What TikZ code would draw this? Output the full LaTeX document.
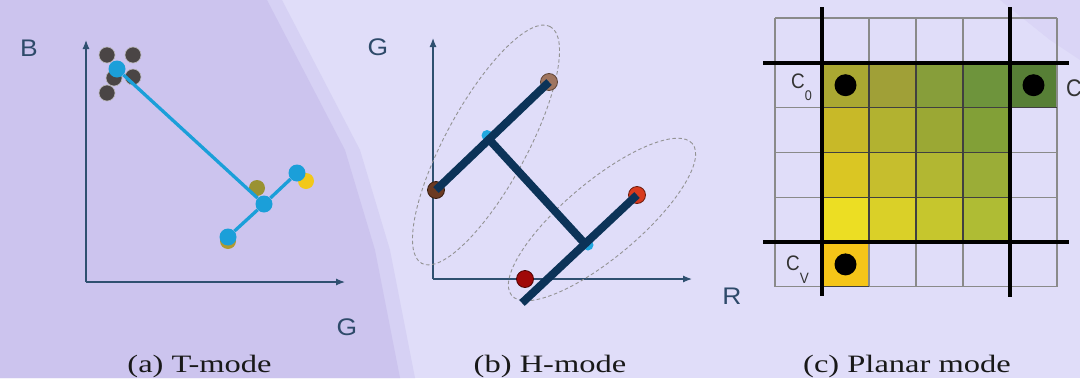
\documentclass[tikz,border=0pt]{standalone}
\usepackage{fontspec}
\setmainfont{Liberation Serif}
\setsansfont{Liberation Sans}
\usetikzlibrary{arrows.meta}
\definecolor{bgl}{HTML}{E0DDF9}
\definecolor{bgp}{HTML}{CCC4EE}
\definecolor{axc}{HTML}{2F5070}
\definecolor{lblc}{HTML}{2E4A6A}
\definecolor{tblue}{HTML}{1B9FD9}
\definecolor{ddot}{HTML}{4A4545}
\definecolor{olivec}{HTML}{9A9232}
\definecolor{ylw}{HTML}{F2C81A}
\definecolor{goldc}{HTML}{B09A30}
\definecolor{navy}{HTML}{0C3358}
\definecolor{brownd}{HTML}{6B3A22}
\definecolor{brownl}{HTML}{A07560}
\definecolor{redl}{HTML}{D83A1E}
\definecolor{redd}{HTML}{A00808}
\definecolor{cyanj}{HTML}{22A8E0}
\definecolor{gridc}{HTML}{8A8A8A}
\definecolor{c11}{HTML}{AAA832}
\definecolor{c12}{HTML}{A0A037}
\definecolor{c13}{HTML}{879E3A}
\definecolor{c14}{HTML}{6E943C}
\definecolor{c15}{HTML}{577F36}
\definecolor{c21}{HTML}{C8B928}
\definecolor{c22}{HTML}{B2B230}
\definecolor{c23}{HTML}{9BA834}
\definecolor{c24}{HTML}{82A037}
\definecolor{c31}{HTML}{DAC623}
\definecolor{c32}{HTML}{C6BE2D}
\definecolor{c33}{HTML}{B2B732}
\definecolor{c34}{HTML}{9BAD37}
\definecolor{c41}{HTML}{ECDE23}
\definecolor{c42}{HTML}{DAD028}
\definecolor{c43}{HTML}{C6C62D}
\definecolor{c44}{HTML}{AFBC34}
\definecolor{c51}{HTML}{F5C518}
\begin{document}
\begin{tikzpicture}[x=1pt,y=-1pt,
  dot/.style={circle,inner sep=0pt,minimum size=16pt},
  axisline/.style={draw=axc,line width=1.2pt,-{Latex[length=9pt,width=7pt]}},
  axl/.style={font=\fontsize{24}{24}\selectfont\sffamily,text=lblc,xscale=1.1,inner sep=0pt},
  captxt/.style={font=\fontsize{25}{25}\selectfont,xscale=1.3,anchor=base,inner sep=0pt,text=black!90},
  tline/.style={draw=tblue,line width=3.3pt},
  hline/.style={draw=navy,line width=8pt},
  ell/.style={draw=gray!85,line width=0.9pt,dash pattern=on 3.5pt off 2.5pt},
  cl/.style={font=\fontsize{21}{21}\selectfont\sffamily,text=black!80,inner sep=0pt,xscale=0.9,anchor=base west},
  bdot/.style={circle,fill=black,inner sep=0pt,minimum size=22pt},
  gridl/.style={draw=gridc,line width=1.2pt},
  innerl/.style={draw=black!75,line width=1.3pt},
  thickl/.style={draw=black,line width=4pt},
]
\useasboundingbox (0,0) rectangle (1080,378);
% background
\fill[bgl] (0,0) rectangle (1080,378);
\fill[bgp!50!bgl] (0,0) -- (282,0) -- (360,150) -- (390,250) -- (415,378) -- (0,378) -- cycle;
\fill[bgp] (0,0) -- (267,0) -- (345,150) -- (375,250) -- (400,378) -- (0,378) -- cycle;
\fill[bgp!30!bgl] (1000,0) -- (1080,0) -- (1080,60) -- (1050,40) -- cycle;

% ---------- panel (a) ----------
\coordinate (ao) at (86,282);
\coordinate (ay) at (86,40);
\coordinate (ax) at (345,282);
\draw[axisline] (ao) -- (ay);
\draw[axisline] (ao) -- (ax);
\node[axl] (aB) at (29,48) {B};
\node[axl] (aG) at (347,327) {G};
\node[dot,fill=ddot,draw=white!60!ddot,line width=0.6pt] (d1) at (107,55) {};
\node[dot,fill=ddot,draw=white!60!ddot,line width=0.6pt] (d2) at (133,55) {};
\node[dot,fill=ddot,draw=white!60!ddot,line width=0.6pt] (d3) at (133,77) {};
\node[dot,fill=ddot,draw=white!60!ddot,line width=0.6pt] (d4) at (107,93) {};
\node[dot,fill=ddot,draw=white!60!ddot,line width=0.6pt] (d5) at (114,78) {};
\node[dot,fill=olivec] (o1) at (257,188) {};
\node[dot,fill=ylw] (y1) at (306,181) {};
\node[dot,fill=goldc] (g1) at (228,241) {};
\node[dot,fill=tblue,minimum size=17pt] (b1) at (117,69) {};
\node[dot,fill=tblue,minimum size=17pt] (b2) at (264,204) {};
\node[dot,fill=tblue,minimum size=17pt] (b3) at (228,237) {};
\node[dot,fill=tblue,minimum size=17pt] (b4) at (297,173) {};
\draw[tline] (b1) -- (b2);
\draw[tline] (b3) -- (b2);
\draw[tline] (b2) -- (b4);
\node[captxt] (capa) at (199.5,372) {(a) T-mode};

% ---------- panel (b) ----------
\coordinate (bo) at (433,279);
\coordinate (by) at (433,38);
\coordinate (bx) at (692,279);
\draw[axisline] (bo) -- (by);
\draw[axisline] (bo) -- (bx);
\node[axl] (bG) at (378,47) {G};
\node[axl] (bR) at (732,296) {R};
\draw[ell, rotate around={61.5:(486,145)}] (486,145) ellipse [x radius=134.7pt, y radius=40.6pt];
\draw[ell, rotate around={40:(602,219.5)}] (602,219.5) ellipse [x radius=118pt, y radius=38pt];
\node[dot,fill=brownd,draw=black!50!brownd,line width=0.8pt,minimum size=17pt] (hu1) at (436,190) {};
\node[dot,fill=brownl,draw=black!40!brownl,line width=0.8pt,minimum size=17pt] (hu2) at (549,82) {};
\node[dot,fill=redl,draw=black!50!redl,line width=0.8pt,minimum size=17pt] (hr1) at (637,195) {};
\node[dot,fill=redd,draw=black!50!redd,line width=0.8pt,minimum size=17pt] (hr2) at (525,279) {};
\node[dot,fill=cyanj,minimum size=11pt] (cj1) at (487,135.5) {};
\node[dot,fill=cyanj,minimum size=11pt] (cj2) at (588,245) {};
\coordinate (j1) at (489,139.3);
\coordinate (j2) at (585,243.8);
\coordinate (he) at (522,303);
\draw[hline] (hu1.center) -- (hu2.center);
\draw[hline] (j1) -- (j2);
\draw[hline] (he) -- (hr1.center);
\node[captxt] (capb) at (550,372) {(b) H-mode};

% ---------- panel (c) ----------
\foreach \r/\k/\c in {1/1/c11,1/2/c12,1/3/c13,1/4/c14,1/5/c15,
                     2/1/c21,2/2/c22,2/3/c23,2/4/c24,
                     3/1/c31,3/2/c32,3/3/c33,3/4/c34,
                     4/1/c41,4/2/c42,4/3/c43,4/4/c44,
                     5/1/c51}
  \fill[\c] ({775+47*\k},{18+44.8*\r}) rectangle ({822+47*\k},{62.8+44.8*\r});
\foreach \i in {0,...,6}
  \draw[gridl] ({775+47*\i},18) -- ({775+47*\i},286.8);
\foreach \j in {0,...,6}
  \draw[gridl] (775,{18+44.8*\j}) -- (1057,{18+44.8*\j});
% darker inner lines of the coloured block
\foreach \i in {2,3,4}
  \draw[innerl] ({775+47*\i},62.8) -- ({775+47*\i},242);
\foreach \j in {2,3,4}
  \draw[innerl] (822,{18+44.8*\j}) -- (1010,{18+44.8*\j});
\draw[innerl] (1010,107.6) -- (1057,107.6);
\draw[innerl] (822,286.8) -- (869,286.8);
\coordinate (v1t) at (822,7);   \coordinate (v1b) at (822,296);
\coordinate (v2t) at (1010,7);  \coordinate (v2b) at (1010,297);
\coordinate (h1l) at (763,62.8); \coordinate (h1r) at (1069,62.8);
\coordinate (h2l) at (763,242);  \coordinate (h2r) at (1069,242);
\draw[thickl] (v1t) -- (v1b);
\draw[thickl] (v2t) -- (v2b);
\draw[thickl] (h1l) -- (h1r);
\draw[thickl] (h2l) -- (h2r);
\node[bdot] (k1) at (845.5,85.2) {};
\node[bdot] (k2) at (1033.5,85.2) {};
\node[bdot] (k3) at (845.5,264.4) {};
\node[cl] (lc0) at (791,88) {C\raisebox{-12pt}{\fontsize{14}{14}\selectfont 0}};
\node[cl] (lcv) at (786,270) {C\raisebox{-13pt}{\fontsize{15}{15}\selectfont V}};
\node[cl,font=\fontsize{24}{24}\selectfont\sffamily] (lch) at (1066,96) {C};
\node[captxt] (capc) at (907,372) {(c) Planar mode};
\end{tikzpicture}
\end{document}
